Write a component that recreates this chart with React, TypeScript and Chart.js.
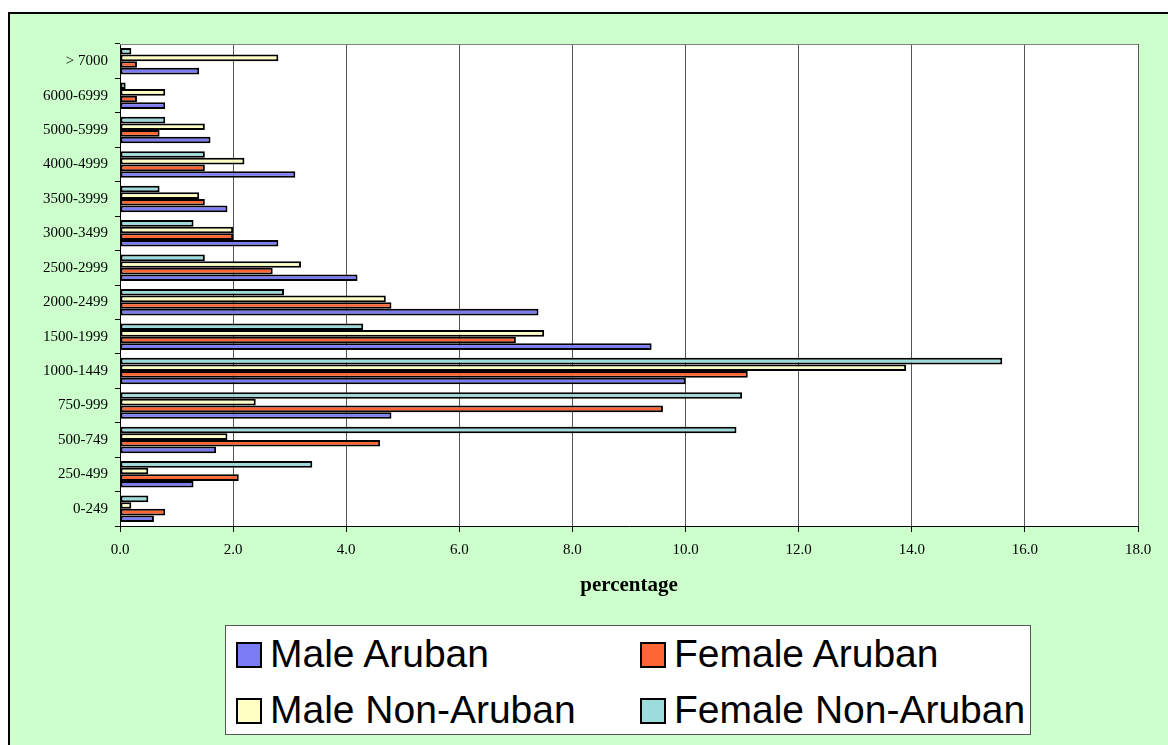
import React, { useEffect, useRef } from 'react';
import { Chart, registerables } from 'chart.js';

Chart.register(...registerables);

// Categories listed top to bottom as shown on the chart
const categories = [
  '> 7000', '6000-6999', '5000-5999', '4000-4999', '3500-3999', '3000-3499', '2500-2999',
  '2000-2499', '1500-1999', '1000-1449', '750-999', '500-749', '250-499', '0-249',
];

const maleAruban = [1.4, 0.8, 1.6, 3.1, 1.9, 2.8, 4.2, 7.4, 9.4, 10.0, 4.8, 1.7, 1.3, 0.6];
const femaleAruban = [0.3, 0.3, 0.7, 1.5, 1.5, 2.0, 2.7, 4.8, 7.0, 11.1, 9.6, 4.6, 2.1, 0.8];
const maleNonAruban = [2.8, 0.8, 1.5, 2.2, 1.4, 2.0, 3.2, 4.7, 7.5, 13.9, 2.4, 1.9, 0.5, 0.2];
const femaleNonAruban = [0.2, 0.1, 0.8, 1.5, 0.7, 1.3, 1.5, 2.9, 4.3, 15.6, 11.0, 10.9, 3.4, 0.5];

const seriesNames = ['Male Aruban', 'Female Aruban', 'Male Non-Aruban', 'Female Non-Aruban'];
const seriesColors = ['#7B7BF6', '#FF6633', '#FFFFC4', '#9CDCDC'];

const xMin = 0;
const xMax = 18;
const xStep = 2;
const xTitle = 'percentage';

const serif = "'Liberation Serif', 'Times New Roman', serif";
const sans = "'Liberation Sans', Arial, sans-serif";

const plotFrame = {
  id: 'plotFrame',
  beforeDraw(chart: any) {
    const { ctx, chartArea } = chart;
    ctx.save();
    ctx.fillStyle = '#FFFFFF';
    ctx.fillRect(chartArea.left, chartArea.top, chartArea.right - chartArea.left, chartArea.bottom - chartArea.top);
    ctx.restore();
  },
  beforeDatasetsDraw(chart: any) {
    const { ctx, chartArea } = chart;
    ctx.save();
    ctx.strokeStyle = '#808080';
    ctx.lineWidth = 1;
    ctx.beginPath();
    ctx.moveTo(chartArea.left, chartArea.top + 0.5);
    ctx.lineTo(chartArea.right, chartArea.top + 0.5);
    ctx.stroke();
    ctx.restore();
  },
};

export default function App() {
  const canvasRef = useRef<HTMLCanvasElement | null>(null);

  useEffect(() => {
    if (!canvasRef.current) return;
    const series = [maleAruban, femaleAruban, maleNonAruban, femaleNonAruban];
    // Top to bottom inside each group: Female Non-Aruban, Male Non-Aruban, Female Aruban, Male Aruban
    const order = [3, 2, 1, 0];
    const chart = new Chart(canvasRef.current, {
      type: 'bar',
      data: {
        labels: categories,
        datasets: order.map((i) => ({
          label: seriesNames[i],
          data: series[i],
          backgroundColor: seriesColors[i],
          borderColor: '#000000',
          borderWidth: 2,
          borderSkipped: false,
          categoryPercentage: 0.77,
          barPercentage: 1.0,
        })),
      },
      options: {
        indexAxis: 'y',
        animation: false,
        responsive: false,
        maintainAspectRatio: false,
        events: [],
        layout: { padding: { left: 8, right: 30, top: 44, bottom: 147 } },
        plugins: {
          legend: { display: false },
          tooltip: { enabled: false },
          title: { display: false },
        },
        scales: {
          x: {
            type: 'linear',
            min: xMin,
            max: xMax,
            ticks: {
              stepSize: xStep,
              callback: (v: any) => Number(v).toFixed(1),
              font: { family: serif, size: 15 },
              color: '#000000',
              padding: 9,
            },
            grid: { color: '#555555', tickColor: '#000000', tickLength: 6, lineWidth: 1 },
            border: { color: '#000000', width: 1 },
            title: {
              display: true,
              text: xTitle,
              font: { family: serif, size: 21, weight: 'bold' },
              color: '#000000',
              padding: 0,
            },
            afterFit: (s: any) => { s.height = 72; },
          },
          y: {
            type: 'category',
            ticks: {
              font: { family: serif, size: 15 },
              color: '#000000',
              padding: 7,
              autoSkip: false,
            },
            grid: { drawOnChartArea: false, tickLength: 5, color: '#000000', offset: true },
            border: { color: '#000000', width: 1 },
            afterFit: (s: any) => { s.width = 112; },
          },
        },
      },
      plugins: [plotFrame],
    } as any);
    return () => chart.destroy();
  }, []);

  const legendItems = [
    { i: 0, left: 10, top: 16 },
    { i: 1, left: 414, top: 16 },
    { i: 2, left: 10, top: 72 },
    { i: 3, left: 414, top: 72 },
  ];

  return (
    <div style={{ position: 'absolute', left: 0, top: 0, width: 1168, height: 745, overflow: 'hidden', background: '#FFFFFF' }}>
      <div
        style={{
          position: 'absolute', left: 8, top: 12, width: 1300, height: 900,
          background: '#CCFFCC', borderLeft: '2px solid #000', borderTop: '2px solid #000',
        }}
      />
      <canvas ref={canvasRef} width={1168} height={745} style={{ position: 'absolute', left: 0, top: 0, width: 1168, height: 745 }} />
      <div
        style={{
          position: 'absolute', left: 225, top: 625, width: 806, height: 110,
          background: '#FFFFFF', border: '1px solid #555', boxSizing: 'border-box',
        }}
      >
        {legendItems.map((it) => (
          <React.Fragment key={it.i}>
            <div
              style={{
                position: 'absolute', left: it.left, top: it.top, width: 26, height: 26,
                background: seriesColors[it.i], border: '2px solid #000', boxSizing: 'border-box',
              }}
            />
            <div
              style={{
                position: 'absolute', left: it.left + 34, top: it.top - 8, fontFamily: sans,
                fontSize: 39, lineHeight: '39px', color: '#000', whiteSpace: 'nowrap',
              }}
            >
              {seriesNames[it.i]}
            </div>
          </React.Fragment>
        ))}
      </div>
    </div>
  );
}
